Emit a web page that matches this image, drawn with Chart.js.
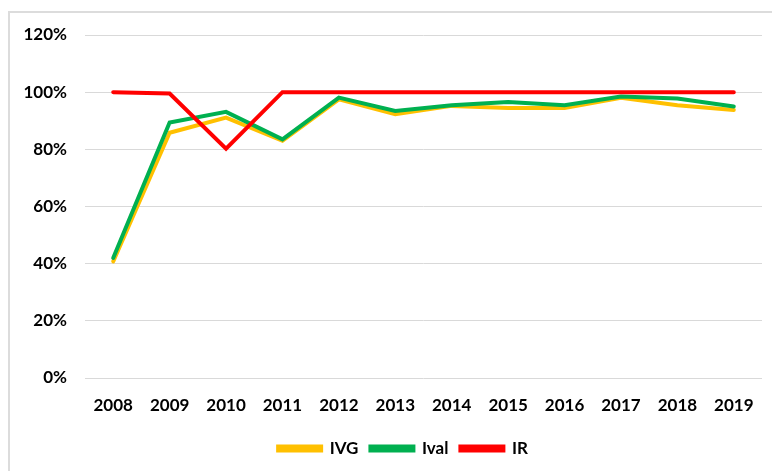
<!DOCTYPE html>
<html>
<head>
<meta charset="utf-8">
<script src="https://cdn.jsdelivr.net/npm/chart.js@4"></script>
<style>
  html, body { margin: 0; padding: 0; background: #fff; overflow: hidden; }
  #frame { position: absolute; left: 8px; top: 11px; width: 820px; height: 520px; border: 2px solid #dcdcdc; }
  #lineChart { position: absolute; left: 0; top: 0; }
</style>
</head>
<body>
<div id="frame"></div>
<canvas id="lineChart" width="772" height="471"></canvas>
<script>
const years = ['2008', '2009', '2010', '2011', '2012', '2013', '2014', '2015', '2016', '2017', '2018', '2019'];
const ivg = [40.8, 85.8, 91.1, 83, 97.5, 92.3, 95.2, 94.5, 94.5, 98, 95.4, 93.8];
const ival = [42, 89.4, 93.1, 83.5, 98.1, 93.4, 95.4, 96.6, 95.4, 98.5, 97.8, 95];
const ir = [100, 99.5, 80.2, 100, 100, 100, 100, 100, 100, 100, 100, 100];

const fontFamily = 'Lato, "Open Sans", sans-serif';

const lineData = {
  labels: years,
  datasets: [{
        label: 'IVG',
        data: ivg,
        borderColor: '#FFC000',
        backgroundColor: '#FFC000',
        order: 2
  }, {
        label: 'Ival',
        data: ival,
        borderColor: '#00B050',
        backgroundColor: '#00B050',
        order: 1
  }, {
        label: 'IR',
        data: ir,
        borderColor: '#FF0000',
        backgroundColor: '#FF0000',
        order: 0
  }]
};

// nudge the legend a bit right, the way Excel centres it
const legendShift = {
    id: 'legendShift',
    afterLayout(chart) {
        chart.legend.left += 22;
        chart.legend.right += 22;
    }
};

const lineConfig = {
    type: 'line',
    data: lineData,
    plugins: [legendShift],
    options: {
        responsive: false,
        animation: false,
        elements: {
            line: { borderWidth: 4, tension: 0, borderCapStyle: 'round' },
            point: { radius: 0, hoverRadius: 0 }
        },
        layout: {
            padding: { top: 35, left: 0, right: 10, bottom: 4 }
        },
        scales: {
            x: {
                offset: true,
                grid: { display: false },
                border: { display: false },
                ticks: {
                    color: '#000',
                    padding: 9,
                    maxRotation: 0,
                    font: { family: fontFamily, size: 17, weight: 'bold' }
                },
                afterFit: (scale) => { scale.height = 50; }
            },
            y: {
                min: 0,
                max: 120,
                ticks: {
                    stepSize: 20,
                    color: '#000',
                    padding: 18,
                    font: { family: fontFamily, size: 17, weight: 'bold' },
                    callback: (v) => v + '%'
                },
                grid: {
                    color: '#d9d9d9',
                    lineWidth: 1,
                    drawTicks: false
                },
                border: { display: false },
                afterFit: (scale) => { scale.width = 85; }
            }
        },
        plugins: {
            legend: {
                position: 'bottom',
                labels: {
                    boxWidth: 43,
                    boxHeight: 4,
                    padding: 12,
                    color: '#000',
                    font: { family: fontFamily, size: 17, weight: 'bold' },
                    sort: (a, b) => a.datasetIndex - b.datasetIndex
                }
            },
            tooltip: { enabled: false }
        }
    }
};

// Get the canvas element
const lineCanvas = document.getElementById('lineChart');

// Create a new chart on the canvas
const lineChart = new Chart(lineCanvas, lineConfig);
</script>
</body>
</html>
